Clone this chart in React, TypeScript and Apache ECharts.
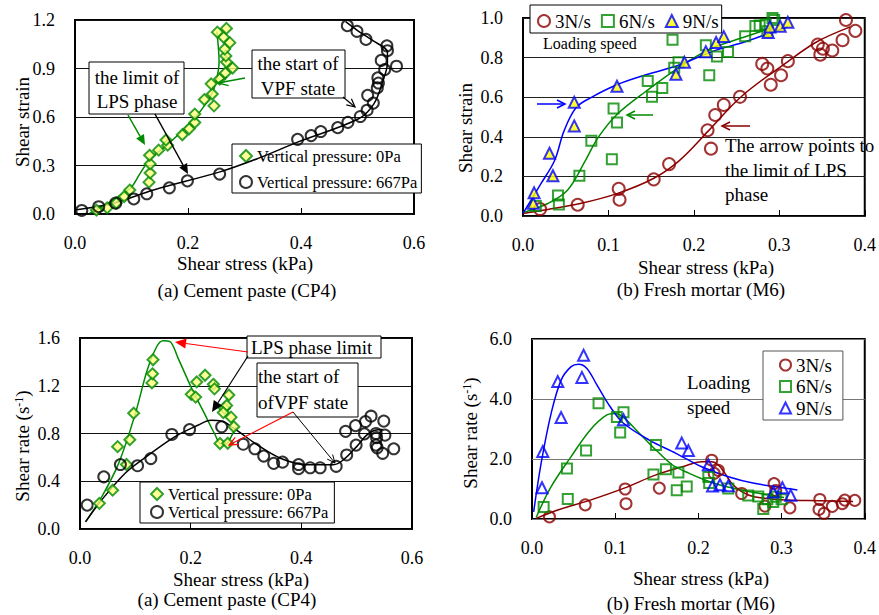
import React, { useEffect, useRef } from "react";
import * as echarts from "echarts";

type P = [number, number];

// ---------- (top-left) Cement paste: shear strain vs shear stress ----------
const cpStrain0Pa: P[] = [
  [0.038, 0.024], [0.057, 0.038], [0.073, 0.068], [0.087, 0.108], [0.097, 0.148],
  [0.131, 0.197], [0.133, 0.254], [0.133, 0.31], [0.132, 0.363], [0.148, 0.395],
  [0.164, 0.426], [0.161, 0.458], [0.19, 0.49], [0.202, 0.527], [0.212, 0.566],
  [0.212, 0.618], [0.229, 0.708], [0.243, 0.742], [0.246, 0.669], [0.241, 0.805],
  [0.256, 0.835], [0.266, 0.872], [0.279, 0.903], [0.268, 0.94], [0.267, 0.978],
  [0.265, 1.02], [0.274, 1.06], [0.263, 1.093], [0.252, 1.125], [0.268, 1.148],
];
const cpStrain0PaFit: P[] = [
  [0.026, 0.005], [0.062, 0.075], [0.098, 0.16], [0.115, 0.25], [0.133, 0.34],
  [0.169, 0.445], [0.211, 0.59], [0.235, 0.7], [0.246, 0.775], [0.252, 0.855],
  [0.255, 0.94], [0.254, 1.02], [0.251, 1.13],
];
const cpStrain667Pa: P[] = [
  [0.012, 0.022], [0.042, 0.045], [0.072, 0.067], [0.104, 0.093], [0.127, 0.125],
  [0.167, 0.162], [0.199, 0.205], [0.256, 0.247], [0.394, 0.462], [0.418, 0.485],
  [0.435, 0.51], [0.465, 0.534], [0.483, 0.567], [0.505, 0.603], [0.517, 0.642],
  [0.528, 0.686], [0.518, 0.734], [0.535, 0.78], [0.537, 0.81], [0.536, 0.842],
  [0.548, 0.893], [0.542, 0.95], [0.569, 0.914], [0.553, 1.01], [0.552, 1.04],
  [0.515, 1.08], [0.499, 1.13], [0.482, 1.165],
];
const cpStrain667PaFit: P[] = [
  [0.0, 0.025], [0.068, 0.067], [0.139, 0.149], [0.258, 0.262], [0.324, 0.344],
  [0.395, 0.446], [0.502, 0.589], [0.529, 0.681], [0.544, 0.814], [0.553, 0.937],
  [0.553, 1.0], [0.526, 1.075], [0.502, 1.13], [0.479, 1.19],
];

// ---------- (top-right) Fresh mortar: shear strain vs shear stress ----------
const mStrain3: P[] = [
  [0.02, 0.035], [0.064, 0.057], [0.112, 0.137], [0.113, 0.082], [0.153, 0.185],
  [0.171, 0.262], [0.216, 0.433], [0.22, 0.34], [0.225, 0.51], [0.235, 0.561],
  [0.254, 0.602], [0.28, 0.768], [0.286, 0.745], [0.29, 0.663], [0.302, 0.711],
  [0.31, 0.782], [0.345, 0.866], [0.348, 0.815], [0.351, 0.845], [0.362, 0.836],
  [0.374, 0.888], [0.378, 0.99], [0.389, 0.935],
];
const mStrain3Fit: P[] = [
  [0.0, 0.013], [0.029, 0.033], [0.067, 0.063], [0.11, 0.113], [0.152, 0.188],
  [0.183, 0.28], [0.217, 0.43], [0.256, 0.605], [0.31, 0.78], [0.344, 0.88], [0.383, 0.955],
];
const mStrain6: P[] = [
  [0.015, 0.05], [0.041, 0.103], [0.042, 0.058], [0.066, 0.203], [0.08, 0.38],
  [0.104, 0.287], [0.106, 0.543], [0.11, 0.472], [0.146, 0.682], [0.151, 0.602],
  [0.163, 0.646], [0.175, 0.89], [0.177, 0.749], [0.182, 0.776], [0.214, 0.862],
  [0.218, 0.711], [0.227, 0.805], [0.24, 0.828], [0.26, 0.908], [0.272, 0.96],
  [0.277, 0.962], [0.284, 0.967], [0.286, 0.933], [0.292, 1.0], [0.294, 0.99],
];
const mStrain6Fit: P[] = [
  [0.0, 0.017], [0.029, 0.063], [0.052, 0.13], [0.073, 0.28], [0.088, 0.397],
  [0.11, 0.513], [0.144, 0.63], [0.187, 0.763], [0.221, 0.847], [0.26, 0.905], [0.294, 0.955],
];
const mStrain9: P[] = [
  [0.012, 0.064], [0.013, 0.117], [0.031, 0.317], [0.035, 0.203], [0.06, 0.574],
  [0.06, 0.455], [0.11, 0.655], [0.179, 0.716], [0.189, 0.776], [0.214, 0.83],
  [0.226, 0.876], [0.235, 0.906], [0.287, 0.927], [0.289, 0.955], [0.301, 0.958], [0.31, 0.978],
];
const mStrain9Fit: P[] = [
  [0.0, 0.013], [0.021, 0.163], [0.037, 0.28], [0.048, 0.43], [0.062, 0.547],
  [0.079, 0.597], [0.11, 0.663], [0.144, 0.713], [0.183, 0.763], [0.221, 0.83],
  [0.26, 0.88], [0.298, 0.938], [0.31, 0.955],
];

// ---------- (bottom-left) Cement paste: shear rate vs shear stress ----------
const cpRate0Pa: P[] = [
  [0.035, 0.215], [0.059, 0.325], [0.068, 0.69], [0.084, 0.54], [0.09, 0.748],
  [0.097, 0.97], [0.13, 1.224], [0.131, 1.3], [0.132, 1.418], [0.201, 1.128],
  [0.209, 1.105], [0.211, 1.232], [0.226, 1.288], [0.241, 1.212], [0.243, 1.174],
  [0.253, 0.716], [0.269, 1.122], [0.261, 1.012], [0.265, 1.035], [0.259, 0.975],
  [0.273, 0.937], [0.267, 0.718], [0.278, 0.856],
];
const cpRate0PaFit: P[] = [
  [0.01, 0.06], [0.04, 0.276], [0.07, 0.552], [0.1, 0.966], [0.121, 1.324],
  [0.139, 1.531], [0.15, 1.578], [0.162, 1.572], [0.177, 1.434], [0.201, 1.186],
  [0.225, 0.966], [0.243, 0.8], [0.255, 0.712], [0.264, 0.712], [0.273, 0.772], [0.282, 0.855],
];
const cpRate667Pa: P[] = [
  [0.013, 0.2], [0.043, 0.437], [0.073, 0.54], [0.104, 0.53], [0.128, 0.59],
  [0.166, 0.792], [0.198, 0.833], [0.256, 0.856], [0.295, 0.71], [0.316, 0.672],
  [0.332, 0.611], [0.35, 0.55], [0.366, 0.56], [0.395, 0.54], [0.395, 0.505],
  [0.416, 0.513], [0.434, 0.513], [0.463, 0.525], [0.482, 0.62], [0.48, 0.818],
  [0.499, 0.703], [0.498, 0.866], [0.514, 0.797], [0.516, 0.9], [0.526, 0.945],
  [0.535, 0.8], [0.536, 0.765], [0.535, 0.703], [0.537, 0.68], [0.549, 0.904],
  [0.551, 0.786], [0.547, 0.634], [0.567, 0.672],
];
const cpRate667PaFit: P[] = [
  [0.01, 0.06], [0.04, 0.248], [0.082, 0.469], [0.112, 0.579], [0.171, 0.772],
  [0.213, 0.869], [0.237, 0.91], [0.255, 0.905], [0.279, 0.841], [0.321, 0.703],
  [0.362, 0.593], [0.41, 0.538], [0.458, 0.538], [0.476, 0.579], [0.5, 0.69],
  [0.518, 0.786], [0.533, 0.828], [0.547, 0.833],
];

// ---------- (bottom-right) Fresh mortar: shear rate vs shear stress ----------
const mRate3: P[] = [
  [0.021, 0.07], [0.064, 0.47], [0.112, 1.0], [0.113, 0.51], [0.153, 1.03],
  [0.216, 1.96], [0.219, 1.52], [0.224, 1.62], [0.252, 0.85], [0.28, 0.43],
  [0.291, 1.18], [0.293, 0.95], [0.31, 0.37], [0.346, 0.65], [0.345, 0.32],
  [0.351, 0.19], [0.361, 0.42], [0.373, 0.51], [0.376, 0.63], [0.388, 0.62],
];
const mRate3Fit: P[] = [
  [0.005, 0.02], [0.031, 0.3], [0.07, 0.63], [0.11, 1.02], [0.149, 1.47],
  [0.181, 1.74], [0.204, 1.91], [0.216, 1.91], [0.224, 1.8], [0.232, 1.52],
  [0.24, 1.19], [0.252, 0.91], [0.267, 0.74], [0.307, 0.63], [0.346, 0.61], [0.386, 0.58],
];
const mRate6: P[] = [
  [0.014, 0.4], [0.042, 1.68], [0.043, 0.67], [0.065, 2.28], [0.08, 3.86],
  [0.102, 3.4], [0.106, 2.88], [0.11, 3.56], [0.149, 2.47], [0.146, 1.48],
  [0.161, 1.66], [0.174, 0.96], [0.186, 1.08], [0.176, 1.55], [0.212, 1.4],
  [0.213, 1.2], [0.236, 1.02], [0.26, 0.78], [0.272, 0.75], [0.278, 0.33],
  [0.283, 0.66], [0.29, 0.57], [0.293, 0.74], [0.3, 0.66],
];
const mRate6Fit: P[] = [
  [0.005, 0.05], [0.023, 1.08], [0.047, 2.08], [0.07, 2.97], [0.09, 3.47],
  [0.1, 3.52], [0.11, 3.39], [0.129, 2.86], [0.149, 2.3], [0.169, 1.8],
  [0.189, 1.52], [0.208, 1.3], [0.228, 1.12], [0.267, 0.88], [0.303, 0.72],
];
const mRate9: P[] = [
  [0.012, 1.04], [0.013, 2.25], [0.031, 4.58], [0.035, 3.38], [0.06, 4.72],
  [0.062, 5.46], [0.11, 3.31], [0.18, 2.53], [0.188, 2.28], [0.212, 1.81],
  [0.217, 1.1], [0.226, 1.14], [0.236, 1.11], [0.29, 0.9], [0.301, 1.04], [0.311, 0.79],
];
const mRate9Fit: P[] = [
  [0.002, 0.24], [0.011, 1.86], [0.023, 3.52], [0.035, 4.63], [0.047, 5.08],
  [0.056, 5.16], [0.066, 5.02], [0.078, 4.47], [0.094, 3.74], [0.11, 3.19],
  [0.141, 2.63], [0.173, 2.19], [0.204, 1.74], [0.236, 1.41], [0.267, 1.19],
  [0.307, 1.02], [0.319, 0.97],
];

// ---------- axes (min, max, interval) ----------
const xTicksCP = [0, 0.6, 0.2];
const xTicksM = [0, 0.4, 0.1];
const yTicksStrainCP = [0, 1.2, 0.3];
const yTicksStrainM = [0, 1.0, 0.2];
const yTicksRateCP = [0, 1.6, 0.4];
const yTicksRateM = [0, 6.0, 2.0];

const pressureNames = ["Vertical pressure: 0Pa", "Vertical pressure: 667Pa"];
const speedNames = ["3N/s", "6N/s", "9N/s"];

const FONT = "Liberation Serif";
const GREEN = "#008a00";
const DARKRED = "#8b0000";
const BLUE = "#0000ff";
const LIGHTYELLOW = "#ffff80";
const YELLOW = "#ffff00";
const CLEAR = "rgba(0,0,0,0)";

const font = (s: number) => `${s}px "${FONT}"`;

function xAxis(gridIndex: number, t: number[]) {
  return {
    type: "value", gridIndex, min: t[0], max: t[1], interval: t[2],
    axisLine: { show: false },
    axisTick: { show: true, inside: true, length: 6, lineStyle: { color: "#000", width: 1 } },
    splitLine: { show: false },
    axisLabel: { margin: 20, fontSize: 18, fontFamily: FONT, color: "#000", formatter: (v: number) => v.toFixed(1) },
  };
}
function yAxis(gridIndex: number, t: number[], split: string) {
  return {
    type: "value", gridIndex, min: t[0], max: t[1], interval: t[2],
    axisLine: { show: false },
    axisTick: { show: false },
    splitLine: { show: true, lineStyle: { color: split, width: 1 } },
    axisLabel: { margin: 20, fontSize: 18, fontFamily: FONT, color: "#000", formatter: (v: number) => v.toFixed(1) },
  };
}
function scatter(name: string, data: P[], i: number, symbol: string, size: number, stroke: string, fill: string) {
  return {
    type: "scatter", name, xAxisIndex: i, yAxisIndex: i, data, symbol, symbolSize: size,
    itemStyle: { color: fill, borderColor: stroke, borderWidth: 2 }, z: 3, silent: true,
  };
}
function fit(name: string, data: P[], i: number, color: string) {
  return {
    type: "line", name, xAxisIndex: i, yAxisIndex: i, data, smooth: 0.35, symbol: "none",
    showSymbol: false, lineStyle: { color, width: 1.5 }, z: 2, silent: true,
  };
}
function txt(text: string, x: number, y: number, size = 19, align = "center", rotation = 0) {
  return {
    type: "text", x, y, rotation, z: 100,
    style: { text, font: font(size), fill: "#000", textAlign: align, textVerticalAlign: "middle" },
  };
}
function rateTitle(x: number, y: number) {
  return {
    type: "text", x, y, rotation: Math.PI / 2, z: 100,
    style: {
      text: "{a|Shear rate (s}{b|-1}{a|)}", fill: "#000",
      rich: { a: { font: font(19), fill: "#000" }, b: { font: font(12), fill: "#000", verticalAlign: "top" } },
      textAlign: "center", textVerticalAlign: "middle",
    },
  };
}
function box(x: number, y: number, w: number, h: number) {
  return { type: "rect", z: 95, shape: { x, y, width: w, height: h }, style: { fill: "#fff", stroke: "#000", lineWidth: 1 } };
}
function arrow(x1: number, y1: number, x2: number, y2: number, color: string, filled: boolean, lw = 1.5, hl = 10, hw = 4.5) {
  const dx = x2 - x1, dy = y2 - y1, L = Math.hypot(dx, dy);
  const ux = dx / L, uy = dy / L, nx = -uy, ny = ux;
  const bx = x2 - ux * hl, by = y2 - uy * hl;
  const els: any[] = [
    { type: "line", z: 96, shape: { x1, y1, x2: filled ? bx : x2, y2: filled ? by : y2 }, style: { stroke: color, lineWidth: lw } },
  ];
  if (filled) {
    els.push({ type: "polygon", z: 96, shape: { points: [[x2, y2], [bx + nx * hw, by + ny * hw], [bx - nx * hw, by - ny * hw]] }, style: { fill: color } });
  } else {
    els.push({ type: "polyline", z: 96, shape: { points: [[bx + nx * hw, by + ny * hw], [x2, y2], [bx - nx * hw, by - ny * hw]] }, style: { stroke: color, lineWidth: lw, fill: null } });
  }
  return els;
}

export default function App() {
  const ref = useRef<HTMLDivElement>(null);
  useEffect(() => {
    if (!ref.current) return;
    const chart = echarts.init(ref.current, undefined, { renderer: "svg" });
    const gridBase = { show: true, borderColor: "#000", borderWidth: 2, backgroundColor: "transparent", containLabel: false };
    const legendText = (size: number, lh: number) => ({ fontSize: size, lineHeight: lh, fontFamily: FONT, color: "#000" });
    const graphics: any[] = [
      // axis titles & captions
      txt("Shear strain", 22, 122, 19, "center", Math.PI / 2),
      txt("Shear stress (kPa)", 245, 263),
      txt("(a) Cement paste (CP4)", 247, 290),
      txt("Shear strain", 465, 128, 19, "center", Math.PI / 2),
      txt("Shear stress (kPa)", 706, 267),
      txt("(b) Fresh mortar (M6)", 701, 289),
      rateTitle(22, 446),
      txt("Shear stress (kPa)", 241, 579),
      txt("(a) Cement paste (CP4)", 227, 599),
      rateTitle(470, 433),
      txt("Shear stress (kPa)", 701, 578),
      txt("(b) Fresh mortar (M6)", 691, 603),
      // top-left annotations
      box(89, 62, 95, 52),
      txt("the limit of", 137, 77),
      txt("LPS phase", 137, 101),
      box(252, 50, 93, 48),
      txt("the start of", 298, 63),
      txt("VPF state", 298, 88),
      ...arrow(128, 115, 145, 145, GREEN, true),
      ...arrow(155, 114, 188, 174, "#000", true),
      ...arrow(245, 78, 218, 83, GREEN, false),
      ...arrow(343, 97, 355, 107, "#000", false, 1.2, 8, 4),
      // top-right annotations
      txt("Loading speed", 543, 43, 16, "left"),
      ...arrow(537, 104, 565, 104, BLUE, false, 1.5, 8, 4),
      ...arrow(653, 115, 627, 115, GREEN, false, 1.5, 8, 4),
      ...arrow(750, 126, 722, 126, DARKRED, false, 1.5, 8, 4),
      txt("The arrow points to", 725, 145, 19, "left"),
      txt("the limit of LPS", 725, 170, 19, "left"),
      txt("phase", 725, 194, 19, "left"),
      // bottom-left annotations
      box(247, 336, 134, 22),
      txt("LPS phase limit", 251, 347, 19, "left"),
      box(257, 363, 101, 54),
      txt("the start of", 258, 376, 19, "left"),
      txt("ofVPF state", 258, 402, 19, "left"),
      ...arrow(248, 352, 175, 342, "#ff0000", true, 1.2, 11, 5),
      ...arrow(248, 356, 212, 412, "#000", true, 1.2, 11, 5),
      ...arrow(293, 412, 229, 445, "#ff0000", false, 1.2, 9, 4),
      ...arrow(293, 412, 335, 463, "#000", false, 1, 8, 3.5),
      // bottom-right annotations
      txt("Loading", 687, 382, 19, "left"),
      txt("speed", 687, 407, 19, "left"),
    ];
    const option: any = {
      animation: false,
      textStyle: { fontFamily: FONT },
      grid: [
        { ...gridBase, left: 75, top: 20, width: 339, height: 194 },
        { ...gridBase, left: 523, top: 18, width: 347, height: 198 },
        { ...gridBase, left: 80, top: 338, width: 332, height: 191 },
        { ...gridBase, left: 532, top: 339, width: 338, height: 180 },
      ],
      xAxis: [xAxis(0, xTicksCP), xAxis(1, xTicksM), xAxis(2, xTicksCP), xAxis(3, xTicksM)],
      yAxis: [
        yAxis(0, yTicksStrainCP, "#111"),
        yAxis(1, yTicksStrainM, "#222"),
        yAxis(2, yTicksRateCP, "#111"),
        yAxis(3, yTicksRateM, "#777"),
      ],
      legend: [
        {
          data: pressureNames, orient: "vertical", left: 232, top: 144, padding: [3, 4, 2, 7],
          itemWidth: 12, itemHeight: 12, itemGap: 8, textStyle: legendText(16.5, 18),
          borderColor: "#000", borderWidth: 1, backgroundColor: "#fff", z: 1, selectedMode: false,
        },
        {
          data: speedNames, orient: "horizontal", left: 530, top: 5, padding: [6, 3, 2, 7],
          itemWidth: 12, itemHeight: 12, itemGap: 10, textStyle: legendText(19, 20),
          borderColor: "#000", borderWidth: 1, backgroundColor: "#fff", z: 1, selectedMode: false,
        },
        {
          data: pressureNames, orient: "vertical", left: 140, top: 482, padding: [3.5, 6, 2.5, 10],
          itemWidth: 12, itemHeight: 12, itemGap: 1, textStyle: legendText(16.5, 17),
          borderColor: "#000", borderWidth: 1, backgroundColor: "#fff", z: 1, selectedMode: false,
        },
        {
          data: [{ name: speedNames[0] }, { name: speedNames[1] }, { name: speedNames[2], itemStyle: { color: "#fff" } }],
          orient: "vertical", left: 763, top: 351, padding: [4, 11, 2, 16],
          itemWidth: 11, itemHeight: 11, itemGap: 1.5, textStyle: legendText(19, 20),
          borderColor: "#555", borderWidth: 1, backgroundColor: "#fff", z: 1, selectedMode: false,
        },
      ],
      series: [
        fit("fit CP strain 0Pa", cpStrain0PaFit, 0, GREEN),
        fit("fit CP strain 667Pa", cpStrain667PaFit, 0, "#000"),
        scatter(pressureNames[0], cpStrain0Pa, 0, "diamond", 11, GREEN, LIGHTYELLOW),
        scatter(pressureNames[1], cpStrain667Pa, 0, "circle", 11, "#000", CLEAR),

        fit("fit M strain 3", mStrain3Fit, 1, DARKRED),
        fit("fit M strain 6", mStrain6Fit, 1, GREEN),
        fit("fit M strain 9", mStrain9Fit, 1, BLUE),
        scatter(speedNames[0], mStrain3, 1, "circle", 12, DARKRED, CLEAR),
        scatter(speedNames[1], mStrain6, 1, "rect", 10, GREEN, CLEAR),
        scatter(speedNames[2], mStrain9, 1, "triangle", 11, BLUE, YELLOW),

        fit("fit CP rate 0Pa", cpRate0PaFit, 2, GREEN),
        fit("fit CP rate 667Pa", cpRate667PaFit, 2, "#000"),
        scatter(pressureNames[0], cpRate0Pa, 2, "diamond", 11, GREEN, LIGHTYELLOW),
        scatter(pressureNames[1], cpRate667Pa, 2, "circle", 11, "#000", CLEAR),

        fit("fit M rate 3", mRate3Fit, 3, DARKRED),
        fit("fit M rate 6", mRate6Fit, 3, GREEN),
        fit("fit M rate 9", mRate9Fit, 3, BLUE),
        scatter(speedNames[0], mRate3, 3, "circle", 11, DARKRED, CLEAR),
        scatter(speedNames[1], mRate6, 3, "rect", 10, GREEN, CLEAR),
        scatter(speedNames[2], mRate9, 3, "triangle", 11, BLUE, CLEAR),
      ],
      graphic: { elements: graphics },
    };
    chart.setOption(option);
    return () => chart.dispose();
  }, []);
  return (
    <div
      ref={ref}
      style={{ position: "absolute", left: 0, top: 0, width: 879, height: 615, background: "#fff" }}
    />
  );
}
